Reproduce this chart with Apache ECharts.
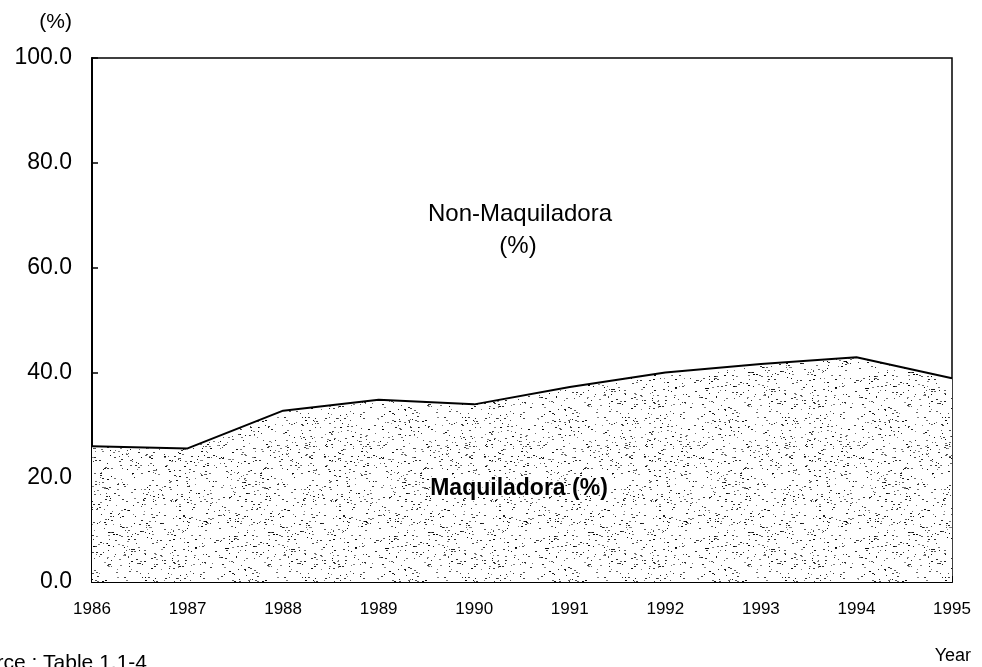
<!DOCTYPE html>
<html>
<head>
<meta charset="utf-8">
<script src="https://cdn.jsdelivr.net/npm/echarts@6/dist/echarts.min.js"></script>
<style>html,body{margin:0;padding:0;background:#fff}#c{width:982px;height:667px}</style>
</head>
<body>
<div id="c"></div>
<script>
const years = ['1986','1987','1988','1989','1990','1991','1992','1993','1994','1995'];
const maquiladora = [25.9, 25.5, 32.7, 34.8, 33.9, 37.2, 40.0, 41.6, 42.9, 38.9];
const yTicks = [0, 20, 40, 60, 80, 100];

// stipple texture
function makePattern() {
  const cv = document.createElement('canvas');
  cv.width = 160; cv.height = 160;
  const ctx = cv.getContext('2d');
  ctx.fillStyle = '#ffffff';
  ctx.fillRect(0, 0, 160, 160);
  let s = 12345;
  function rnd() { s = (s * 1103515245 + 12345) & 0x7fffffff; return s / 0x7fffffff; }
  for (let i = 0; i < 1000; i++) {
    const x = Math.floor(rnd() * 160), y = Math.floor(rnd() * 160);
    const g = Math.floor(rnd() * 140);
    ctx.fillStyle = 'rgb(' + g + ',' + g + ',' + g + ')';
    const w = rnd() < 0.5 ? 2 : 1;
    ctx.fillRect(x, y, w, 1);
  }
  return cv;
}

const chart = echarts.init(document.getElementById('c'), null, {renderer: 'canvas'});
const FONT = '"Liberation Sans", Arial, sans-serif';
chart.setOption({
  animation: false,
  backgroundColor: '#fff',
  grid: {left: 92, right: 30, top: 58, bottom: 85, show: true, borderColor: '#000', borderWidth: 1.5, backgroundColor: 'transparent'},
  xAxis: {
    type: 'category', data: years, boundaryGap: false,
    axisLine: {lineStyle: {color: '#000', width: 2}},
    axisTick: {inside: true, length: 6, lineStyle: {color: '#000', width: 2}},
    axisLabel: {color: '#000', fontFamily: FONT, fontSize: 17, margin: 19},
    splitLine: {show: false}
  },
  yAxis: {
    type: 'value', min: 0, max: 100, interval: 20,
    axisLine: {show: true, lineStyle: {color: '#000', width: 2}},
    axisTick: {show: true, inside: true, length: 6, lineStyle: {color: '#000', width: 1.5}},
    axisLabel: {color: '#000', fontFamily: FONT, fontSize: 23, margin: 20, formatter: v => v.toFixed(1)},
    splitLine: {show: false}
  },
  series: [{
    type: 'line', data: maquiladora, showSymbol: false, symbol: 'none',
    lineStyle: {color: '#000', width: 2},
    areaStyle: {color: {image: makePattern(), repeat: 'repeat'}, opacity: 1},
    z: 1
  }],
  graphic: [
    {type: 'text', x: 72, y: 22, style: {text: '(%)', fill: '#000', font: '21px ' + FONT, textAlign: 'right', textVerticalAlign: 'middle'}},
    {type: 'text', x: 520, y: 214, style: {text: 'Non-Maquiladora', fill: '#000', font: '24px ' + FONT, textAlign: 'center', textVerticalAlign: 'middle'}},
    {type: 'text', x: 518, y: 246, style: {text: '(%)', fill: '#000', font: '24px ' + FONT, textAlign: 'center', textVerticalAlign: 'middle'}},
    {type: 'text', x: 519, y: 489, z: 10, style: {text: 'Maquiladora (%)', fill: '#000', font: 'bold 23px ' + FONT, textAlign: 'center', textVerticalAlign: 'middle', stroke: '#fff', lineWidth: 3}},
    {type: 'text', x: 971, y: 656, style: {text: 'Year', fill: '#000', font: '18px ' + FONT, textAlign: 'right', textVerticalAlign: 'middle'}},
    {type: 'text', x: 147, y: 663, style: {text: 'Source : Table 1.1-4', fill: '#000', font: '21px ' + FONT, textAlign: 'right', textVerticalAlign: 'middle'}}
  ]
});
</script>
</body>
</html>
